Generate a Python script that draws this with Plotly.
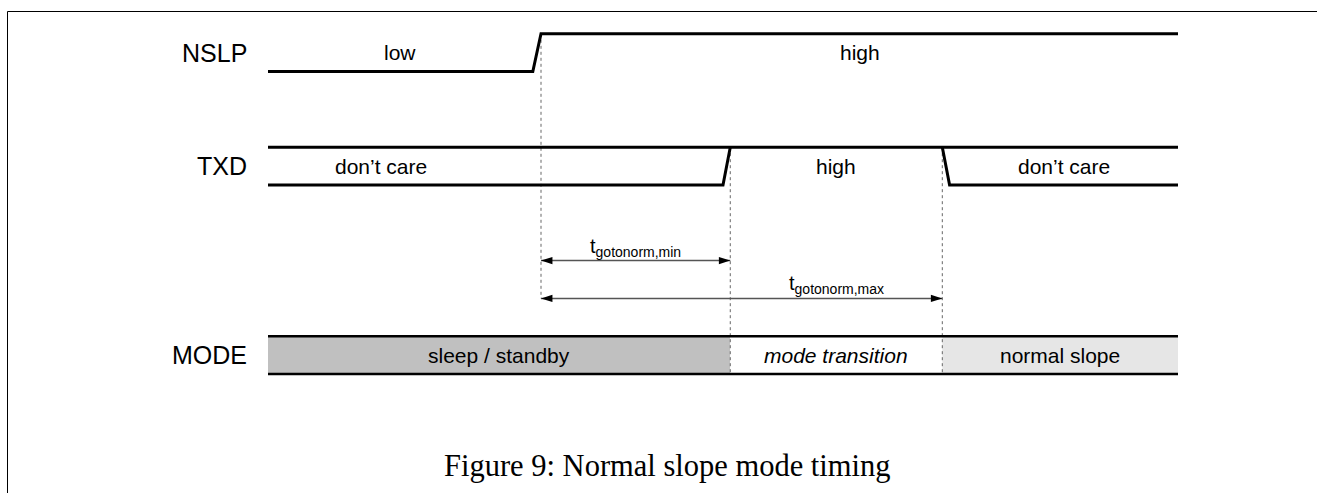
import plotly.graph_objects as go

# ---------------- data (time in arbitrary diagram units, level 0/1) ----------------
nslp_time = [0.0, 2.91, 3.0, 10.0]
nslp_level = [0, 0, 1, 1]

txd_high_time = [0.0, 10.0]
txd_high_level = [1, 1]
txd_low_time_a = [0.0, 5.0, 5.08]
txd_low_level_a = [0, 0, 1]
txd_low_time_b = [7.41, 7.49, 10.0]
txd_low_level_b = [1, 0, 0]

row_names = ["NSLP", "TXD", "MODE"]
row_base = [8, 5, 0]

nslp_labels = ["low", "high"]
nslp_label_time = [1.455, 6.5]

txd_labels = ["don’t care", "high", "don’t care"]
txd_label_time = [1.24, 6.245, 8.745]

mode_labels = ["sleep / standby", "<i>mode transition</i>", "normal slope"]
mode_start = [0.0, 5.08, 7.41]
mode_end = [5.08, 7.41, 10.0]

guide_time = [3.0, 5.08, 7.41]
guide_top = [9, 6, 6]
guide_bottom = [2, 0, 0]

arrow_labels = ["t<sub>gotonorm,min</sub>", "t<sub>gotonorm,max</sub>"]
arrow_start = [3.0, 3.0]
arrow_end = [5.08, 7.41]
arrow_level = [3, 2]
arrow_label_time = [4.04, 6.245]

caption = "Figure 9: Normal slope mode timing"

# ---------------- styles ----------------
mode_fill = ["#c0c0c0", "#ffffff", "#e6e6e6"]
SANS = "Liberation Sans, Arial, sans-serif"
SERIF = "Liberation Serif, Times New Roman, serif"
W, H = 1317, 493
PX_PER_T = 91.0
PX_PER_L = 37.8
X0_PX = 268.0
Y0_PX = 374.0

fig = go.Figure()

# mode box fills
for s, e, c in zip(mode_start, mode_end, mode_fill):
    fig.add_shape(type="rect", xref="x", yref="y", x0=s, x1=e, y0=0, y1=1,
                  fillcolor=c, line=dict(width=0), layer="below")

# dotted guides
for t, top, bot in zip(guide_time, guide_top, guide_bottom):
    fig.add_trace(go.Scatter(x=[t, t], y=[top, bot], mode="lines",
                             line=dict(color="#666666", width=1, dash="dot"),
                             hoverinfo="skip"))

# mode box borders
for lv in [0, 1]:
    fig.add_trace(go.Scatter(x=[mode_start[0], mode_end[-1]], y=[lv, lv], mode="lines",
                             line=dict(color="black", width=2.5), hoverinfo="skip"))

# NSLP
fig.add_trace(go.Scatter(x=nslp_time, y=[row_base[0] + v for v in nslp_level], mode="lines",
                         line=dict(color="black", width=3), hoverinfo="skip"))
# TXD
fig.add_trace(go.Scatter(x=txd_high_time, y=[row_base[1] + v for v in txd_high_level], mode="lines",
                         line=dict(color="black", width=3), hoverinfo="skip"))
fig.add_trace(go.Scatter(x=txd_low_time_a, y=[row_base[1] + v for v in txd_low_level_a], mode="lines",
                         line=dict(color="black", width=3), hoverinfo="skip"))
fig.add_trace(go.Scatter(x=txd_low_time_b, y=[row_base[1] + v for v in txd_low_level_b], mode="lines",
                         line=dict(color="black", width=3), hoverinfo="skip"))

# timing arrows
for s, e, lv in zip(arrow_start, arrow_end, arrow_level):
    fig.add_trace(go.Scatter(x=[s, e], y=[lv, lv], mode="lines",
                             line=dict(color="#555555", width=1.5), hoverinfo="skip"))
    fig.add_trace(go.Scatter(x=[s, e], y=[lv, lv], mode="markers",
                             marker=dict(symbol="arrow", size=12, angle=[-90, 90],
                                         color="black", line=dict(width=0)),
                             hoverinfo="skip"))

annotations = []
# row names
for name, base in zip(row_names, row_base):
    annotations.append(dict(x=0, y=base + 0.5, xref="x", yref="y", text=name, showarrow=False,
                            xanchor="right", yanchor="middle", xshift=-19,
                            font=dict(family=SANS, size=25, color="black")))
for lab, t in zip(nslp_labels, nslp_label_time):
    annotations.append(dict(x=t, y=row_base[0] + 0.5, xref="x", yref="y", text=lab, showarrow=False,
                            xanchor="center", yanchor="middle",
                            font=dict(family=SANS, size=21, color="black")))
for lab, t in zip(txd_labels, txd_label_time):
    annotations.append(dict(x=t, y=row_base[1] + 0.5, xref="x", yref="y", text=lab, showarrow=False,
                            xanchor="center", yanchor="middle",
                            font=dict(family=SANS, size=21, color="black")))
for lab, s, e in zip(mode_labels, mode_start, mode_end):
    annotations.append(dict(x=(s + e) / 2, y=row_base[2] + 0.5, xref="x", yref="y", text=lab,
                            showarrow=False, xanchor="center", yanchor="middle",
                            font=dict(family=SANS, size=21, color="black")))
for lab, t, lv in zip(arrow_labels, arrow_label_time, arrow_level):
    annotations.append(dict(x=t, y=lv, xref="x", yref="y", text=lab, showarrow=False,
                            xanchor="center", yanchor="bottom", yshift=-1,
                            font=dict(family=SANS, size=20, color="black")))
annotations.append(dict(x=667 / W, y=1 - 466 / H, xref="paper", yref="paper", text=caption,
                        showarrow=False, xanchor="center", yanchor="middle",
                        font=dict(family=SERIF, size=30.5, color="black")))

# frame (top and left edges)
fy = 1 - 11.5 / H
fx = 7.5 / W
fig.add_shape(type="line", xref="paper", yref="paper", x0=fx, x1=1, y0=fy, y1=fy,
              line=dict(color="black", width=1))
fig.add_shape(type="line", xref="paper", yref="paper", x0=fx, x1=fx, y0=0, y1=fy,
              line=dict(color="black", width=1))

fig.update_layout(
    width=W, height=H, margin=dict(l=0, r=0, t=0, b=0),
    paper_bgcolor="white", plot_bgcolor="white", showlegend=False,
    annotations=annotations,
    xaxis=dict(range=[-X0_PX / PX_PER_T, (W - X0_PX) / PX_PER_T], visible=False, fixedrange=True),
    yaxis=dict(range=[(Y0_PX - H) / PX_PER_L, Y0_PX / PX_PER_L], visible=False, fixedrange=True),
)

fig.write_html("out.html", config={"displayModeBar": False},
               post_script="document.body.style.margin='0px';document.body.style.overflow='hidden';")
